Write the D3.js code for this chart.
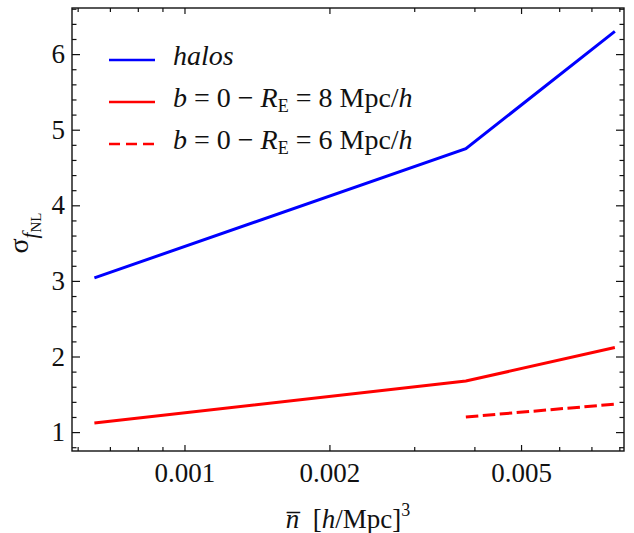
<!DOCTYPE html>
<html lang="en">
<head>
    <meta charset="utf-8">
    <title>sigma fNL vs nbar</title>
    <script src="https://d3js.org/d3.v7.min.js"></script>
    <style>
        body { margin: 0; background: #fff; }
    </style>
</head>
<body>
<div id="chart"></div>
<script>

    // Data
    const nbarAll = [0.00065, 0.00384, 0.00783];
    const halos = [3.04, 4.75, 6.30];
    const radiusE8 = [1.12, 1.675, 2.12];
    const nbarE6 = [0.00384, 0.00783];
    const radiusE6 = [1.20, 1.37];

    const xMajor = [0.001, 0.002, 0.005];
    const xMinor = [0.0006, 0.0007, 0.0008, 0.0009, 0.003, 0.004, 0.006, 0.007, 0.008];
    const yMajor = [1, 2, 3, 4, 5, 6];
    const yMinor = d3.range(0.8, 6.61, 0.2).filter(v => Math.abs(v - Math.round(v)) > 0.01);

    const W = 634, H = 533;
    const frame = {left: 72, right: 624, top: 8, bottom: 451};
    const serif = '"Liberation Serif"';

    const svg = d3.select("#chart")
        .append("svg")
        .attr("width", W)
        .attr("height", H);

    const x = d3.scaleLog()
        .domain([0.000584, 0.00818])
        .range([frame.left, frame.right]);

    const y = d3.scaleLinear()
        .domain([0.75, 6.61])
        .range([frame.bottom, frame.top]);

    const fmt = d3.format(".3f");

    // ticks: all pointing inwards, labels only on bottom and left
    const axes = [
        {ax: d3.axisBottom(x).tickValues(xMajor).tickSize(-6).tickPadding(12).tickFormat(fmt), t: `translate(0,${frame.bottom})`},
        {ax: d3.axisBottom(x).tickValues(xMinor).tickSize(-4).tickFormat(""), t: `translate(0,${frame.bottom})`},
        {ax: d3.axisTop(x).tickValues(xMajor).tickSize(-6).tickFormat(""), t: `translate(0,${frame.top})`},
        {ax: d3.axisTop(x).tickValues(xMinor).tickSize(-4).tickFormat(""), t: `translate(0,${frame.top})`},
        {ax: d3.axisLeft(y).tickValues(yMajor).tickSize(-8).tickPadding(7).tickFormat(d3.format("d")), t: `translate(${frame.left},0)`},
        {ax: d3.axisLeft(y).tickValues(yMinor).tickSize(-4.5).tickFormat(""), t: `translate(${frame.left},0)`},
        {ax: d3.axisRight(y).tickValues(yMajor).tickSize(-8).tickFormat(""), t: `translate(${frame.right},0)`},
        {ax: d3.axisRight(y).tickValues(yMinor).tickSize(-4.5).tickFormat(""), t: `translate(${frame.right},0)`}
    ];

    axes.forEach(a => {
        const g = svg.append("g")
            .attr("transform", a.t)
            .call(a.ax)
            .attr("font-family", null);
        g.select(".domain").remove();
        g.selectAll("line").attr("stroke", "#111").attr("stroke-width", 1.2);
        g.selectAll("text")
            .attr("fill", "#111")
            .style("font-family", serif)
            .style("font-size", "27px");
    });

    // frame
    svg.append("rect")
        .attr("x", frame.left)
        .attr("y", frame.top)
        .attr("width", frame.right - frame.left)
        .attr("height", frame.bottom - frame.top)
        .attr("fill", "none")
        .attr("stroke", "#111")
        .attr("stroke-width", 1.4);

    const line = d3.line()
        .x(d => x(d[0]))
        .y(d => y(d[1]));

    const series = [
        {xs: nbarAll, ys: halos, color: "#0000ff", dash: null},
        {xs: nbarAll, ys: radiusE8, color: "#ff0000", dash: null},
        {xs: nbarE6, ys: radiusE6, color: "#ff0000", dash: "12.5,4.5"}
    ];

    series.forEach(s => {
        svg.append("path")
            .datum(d3.zip(s.xs, s.ys))
            .attr("d", line)
            .attr("fill", "none")
            .attr("stroke", s.color)
            .attr("stroke-width", 3)
            .attr("stroke-dasharray", s.dash);
    });

    // legend
    const legend = svg.append("g");
    const legendY = [60, 102, 144];
    series.forEach((s, i) => {
        legend.append("line")
            .attr("x1", 109).attr("x2", 155)
            .attr("y1", legendY[i]).attr("y2", legendY[i])
            .attr("stroke", s.color)
            .attr("stroke-width", 2.5)
            .attr("stroke-dasharray", s.dash ? "11,6" : null);
    });

    const legendText = (i, parts) => {
        const t = legend.append("text")
            .attr("x", 173)
            .attr("y", legendY[i] + 5)
            .attr("fill", "#111")
            .style("font-family", serif)
            .style("font-size", "28px");
        parts.forEach(p => {
            const ts = t.append("tspan").text(p.s);
            if (p.i) ts.style("font-style", "italic");
            if (p.sub) ts.attr("dy", 5).style("font-size", "18px");
            if (p.back) ts.attr("dy", -5);
        });
    };

    legendText(0, [{s: "halos", i: true}]);
    const rParts = r => [
        {s: "b", i: true}, {s: " = 0 \u2212 "}, {s: "R", i: true}, {s: "E", sub: true},
        {s: " = " + r + " Mpc/", back: true}, {s: "h", i: true}
    ];
    legendText(1, rParts(8));
    legendText(2, rParts(6));

    // y label
    const yl = svg.append("text")
        .attr("transform", `translate(28,233) rotate(-90)`)
        .attr("text-anchor", "middle")
        .attr("fill", "#111")
        .style("font-family", serif)
        .style("font-size", "28px");
    yl.append("tspan").text("\u03c3");
    yl.append("tspan").text("f").attr("dy", 9).style("font-style", "italic").style("font-size", "21px");
    yl.append("tspan").text("NL").attr("dy", 4).style("font-size", "15px");

    // x label
    const xl = svg.append("text")
        .attr("x", (frame.left + frame.right) / 2)
        .attr("y", 528)
        .attr("text-anchor", "middle")
        .attr("fill", "#111")
        .style("font-family", serif)
        .style("font-size", "27px");
    xl.append("tspan").text("n\u0305").style("font-style", "italic");
    xl.append("tspan").text("\u00a0\u00a0[");
    xl.append("tspan").text("h").style("font-style", "italic");
    xl.append("tspan").text("/Mpc]");
    xl.append("tspan").text("3").attr("dy", -12).style("font-size", "18px");

</script>
</body>
</html>
